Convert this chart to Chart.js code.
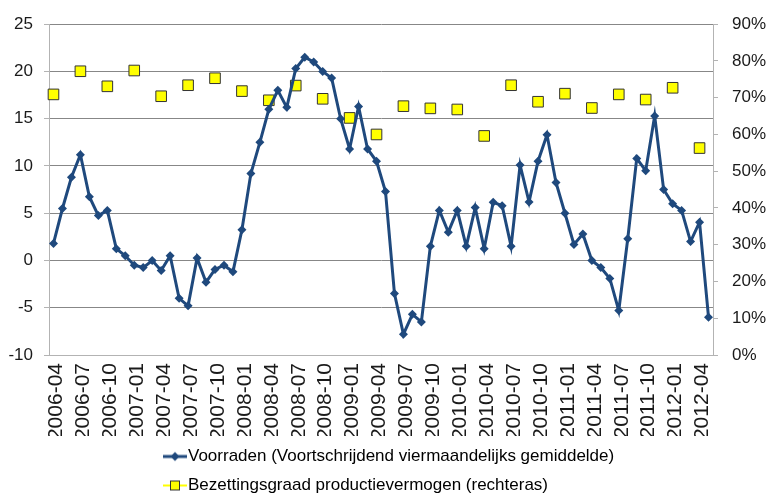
<!DOCTYPE html>
<html>
<head>
<meta charset="utf-8">
<script src="https://cdn.jsdelivr.net/npm/chart.js@4/dist/chart.umd.min.js"></script>
<style>
  html,body{margin:0;padding:0;background:#fff;}
  #wrap{width:769px;height:494px;}
</style>
</head>
<body>
<div id="wrap"><canvas id="c" width="769" height="494"></canvas></div>
<script>
  // months 2006-04 .. 2012-05, labelled every quarter
  var START_YEAR = 2006, START_MONTH = 4, N_MONTHS = 74;
  var voorraden = [
    1.8, 5.5, 8.8, 11.2, 6.75, 4.75, 5.3, 1.25, 0.5, -0.5,
    -0.75, 0, -1.05, 0.5, -4.0, -4.8, 0.25, -2.3, -0.95, -0.5,
    -1.2, 3.25, 9.2, 12.5, 16.0, 18.0, 16.2, 20.3, 21.5, 21.0,
    20.0, 19.3, 15.0, 11.8, 16.3, 11.8, 10.5, 7.3, -3.5, -7.8,
    -5.7, -6.5, 1.5, 5.3, 3.0, 5.3, 1.5, 5.6, 1.25, 6.15,
    5.8, 1.5, 10.1, 6.2, 10.5, 13.3, 8.25, 5.0, 1.7, 2.8,
    0.0, -0.75, -1.9, -5.3, 2.3, 10.8, 9.5, 15.3, 7.5, 6.0,
    5.3, 2.0, 4.05, -6.0
  ];
  // quarterly, first month of each quarter (04, 07, 10, 01)
  var bezetting = [
    70.9, 77.2, 73.1, 77.4, 70.4, 73.4, 75.3, 71.8, 69.3, 73.3,
    69.7, 64.5, 60.0, 67.7, 67.1, 66.8, 59.6, 73.4, 68.9, 71.1,
    67.2, 70.9, 69.5, 72.7, 56.3
  ];
  var seriesNames = [
    'Voorraden (Voortschrijdend viermaandelijks gemiddelde)',
    'Bezettingsgraad productievermogen (rechteras)'
  ];

  var months = [];
  for (var i = 0; i < N_MONTHS; i++) {
    var m = START_MONTH - 1 + i;
    var y = START_YEAR + Math.floor(m / 12);
    var mm = (m % 12) + 1;
    months.push(y + '-' + (mm < 10 ? '0' + mm : mm));
  }
  var bezMonthly = months.map(function(_, i){ return i % 3 === 0 ? bezetting[i / 3] : null; });

  var BLUE = '#1F497D', YELLOW = '#FFFF00', FONT = "'Liberation Sans', Arial, sans-serif";

  function icon(kind){
    var c = document.createElement('canvas'); c.width = 24; c.height = 14;
    var g = c.getContext('2d');
    if (kind === 0) {
      g.strokeStyle = BLUE; g.lineWidth = 3;
      g.beginPath(); g.moveTo(0, 7); g.lineTo(24, 7); g.stroke();
      g.fillStyle = BLUE; g.beginPath();
      g.moveTo(12, 2.5); g.lineTo(16.5, 7); g.lineTo(12, 11.5); g.lineTo(7.5, 7); g.closePath(); g.fill();
    } else {
      g.strokeStyle = YELLOW; g.lineWidth = 2;
      g.beginPath(); g.moveTo(0, 7); g.lineTo(24, 7); g.stroke();
      g.fillStyle = YELLOW; g.fillRect(7, 2, 10, 10);
      g.strokeStyle = '#333'; g.lineWidth = 1; g.strokeRect(7.5, 2.5, 9, 9);
    }
    return c;
  }
  var icons = [icon(0), icon(1)];

  var legendShift = {
    id: 'legendShift',
    afterLayout: function(chart){ if (chart.legend) chart.legend.left = 158.5; }
  };

  new Chart(document.getElementById('c'), {
    type: 'line',
    data: {
      labels: months,
      datasets: [{
        label: seriesNames[0], data: voorraden, yAxisID: 'y',
        borderColor: BLUE, backgroundColor: BLUE, borderWidth: 3,
        pointStyle: 'rectRot', pointRadius: 4.5, pointBorderWidth: 0,
        tension: 0, fill: false
      }, {
        label: seriesNames[1], data: bezMonthly, yAxisID: 'y1',
        showLine: false, spanGaps: true,
        pointStyle: 'rect', pointRadius: 7.5,
        backgroundColor: YELLOW, borderColor: '#333', pointBorderWidth: 1
      }]
    },
    options: {
      responsive: false, animation: false,
      layout: { padding: { top: 18, bottom: -10, left: 0, right: 0 } },
      plugins: {
        tooltip: { enabled: false },
        legend: {
          position: 'bottom', align: 'start',
          labels: {
            usePointStyle: true, pointStyleWidth: 9, padding: 12,
            color: '#1a1a1a', font: { family: FONT, size: 17 },
            generateLabels: function(chart){
              return seriesNames.map(function(t, i){
                return { text: t, pointStyle: icons[i], fillStyle: 'transparent',
                         strokeStyle: 'transparent', lineWidth: 0, hidden: false, datasetIndex: i };
              });
            }
          }
        }
      },
      scales: {
        x: {
          offset: true,
          grid: { display: false, drawTicks: false },
          border: { display: true, color: '#B3B3B3', width: 1 },
          ticks: {
            autoSkip: false, maxRotation: 90, minRotation: 90, padding: 8, labelOffset: 3,
            color: '#1a1a1a', font: { family: FONT, size: 21 },
            callback: function(v, i){ return i % 3 === 0 ? months[i] : ''; }
          },
          afterFit: function(s){ s.height = 81; }
        },
        y: {
          position: 'left', min: -10, max: 25,
          grid: { color: '#878787', tickColor: '#B3B3B3', tickLength: 5 },
          border: { color: '#B3B3B3' },
          ticks: { stepSize: 5, padding: 11, color: '#1a1a1a', font: { family: FONT, size: 17 } },
          afterFit: function(s){ s.width = 49; }
        },
        y1: {
          position: 'right', min: 0, max: 90,
          grid: { drawOnChartArea: false, color: '#B3B3B3', tickLength: 5 },
          border: { color: '#B3B3B3' },
          ticks: { stepSize: 10, padding: 14, color: '#1a1a1a', font: { family: FONT, size: 17 },
                   callback: function(v){ return v + '%'; } },
          afterFit: function(s){ s.width = 56; }
        }
      }
    },
    plugins: [legendShift]
  });
</script>
</body>
</html>
